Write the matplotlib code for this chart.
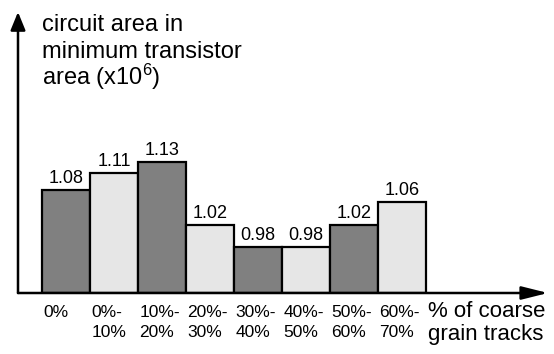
import matplotlib
matplotlib.use("Agg")
import matplotlib.pyplot as plt

categories = ["0%", "0%-\n10%", "10%-\n20%", "20%-\n30%", "30%-\n40%",
              "40%-\n50%", "50%-\n60%", "60%-\n70%"]
values = [1.08, 1.11, 1.13, 1.02, 0.98, 0.98, 1.02, 1.06]
value_labels = ["1.08", "1.11", "1.13", "1.02", "0.98", "0.98", "1.02", "1.06"]
ylabel_lines = ["circuit area in", "minimum transistor", "area (x10$^6$)"]
xlabel_lines = ["% of coarse", "grain tracks"]

plt.rcParams['font.family'] = ['Liberation Sans', 'DejaVu Sans']
plt.rcParams['mathtext.fontset'] = 'custom'
plt.rcParams['mathtext.rm'] = 'Liberation Sans'
plt.rcParams['mathtext.it'] = 'Liberation Sans'

W, H = 554, 354
fig = plt.figure(figsize=(W / 100, H / 100), dpi=100)
ax = fig.add_axes([18 / W, 61 / H, 530 / W, 281 / H])
base = 0.9
ax.set_xlim(-1.0, 10.04)
ax.set_ylim(base, base + 281 / 570)

colors = ["#808080" if i % 2 == 0 else "#e6e6e6" for i in range(len(values))]
xs = list(range(len(values)))
ax.bar(xs, [v - base for v in values], bottom=base, width=1.0,
       color=colors, edgecolor="black", linewidth=1.6, zorder=2)
for x, v, lab in zip(xs, values, value_labels):
    ax.annotate(lab, (x, v), xytext=(0, 5), textcoords="offset points",
                ha="center", va="baseline", fontsize=13)

for s in ax.spines.values():
    s.set_visible(False)
ax.set_xticks([])
ax.set_yticks([])

# axes arrows
ax.annotate("", xy=(0, 1), xycoords="axes fraction", xytext=(0, 0),
            arrowprops=dict(arrowstyle="-|>,head_length=1.1,head_width=0.45",
                            color="black", lw=1.8, shrinkA=0, shrinkB=0))
ax.annotate("", xy=(1, 0), xycoords="axes fraction", xytext=(0, 0),
            arrowprops=dict(arrowstyle="-|>,head_length=1.6,head_width=0.4",
                            color="black", lw=1.8, shrinkA=0, shrinkB=0))

# category labels, left aligned at bar left edges
for x, c in zip(xs, categories):
    for k, line in enumerate(c.split("\n")):
        ax.annotate(line, (x - 0.5, base), xytext=(1, -(24 + 20 * k) * 0.72),
                    textcoords="offset points", ha="left", va="baseline",
                    fontsize=12.5)

for k, (line, yb) in enumerate(zip(ylabel_lines, [31, 58, 85])):
    fig.text(42 / W, 1 - yb / H, line, ha="left", va="baseline", fontsize=17)
for line, yb in zip(xlabel_lines, [317, 340]):
    fig.text(428 / W, 1 - yb / H, line, ha="left", va="baseline", fontsize=16)

fig.savefig("out.png", dpi=100)
